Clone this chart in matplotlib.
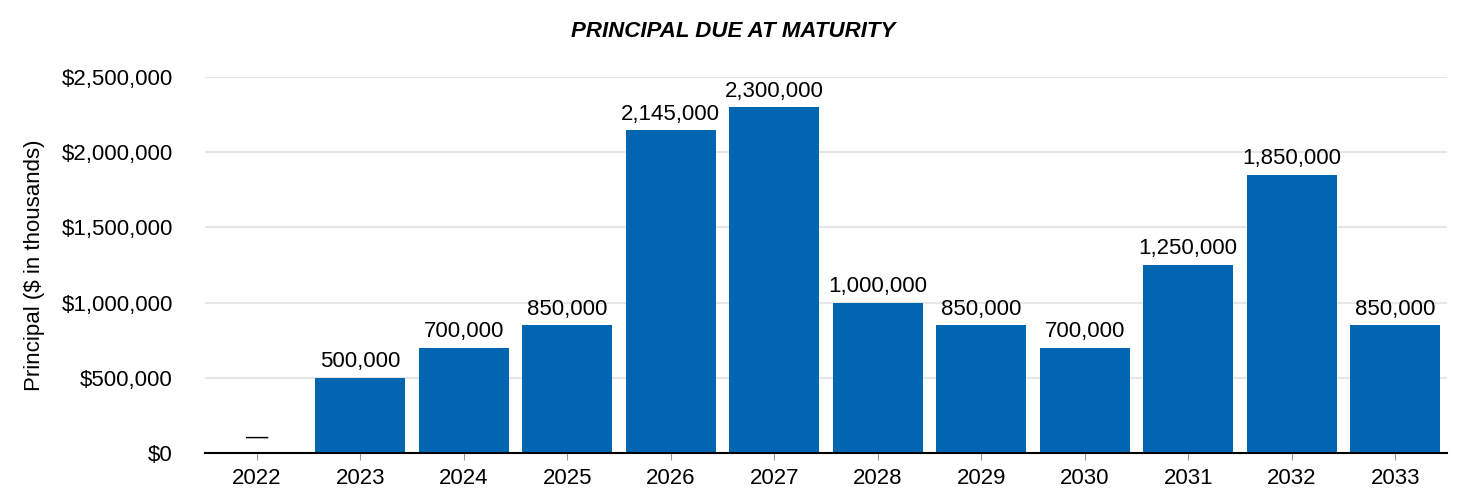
import matplotlib.pyplot as plt
from matplotlib.ticker import FuncFormatter

plt.rcParams['font.family'] = ['Liberation Sans', 'DejaVu Sans']

years = ['2022', '2023', '2024', '2025', '2026', '2027', '2028', '2029', '2030', '2031', '2032', '2033']
principal = [0, 500000, 700000, 850000, 2145000, 2300000, 1000000, 850000, 700000, 1250000, 1850000, 850000]

fig = plt.figure(figsize=(14.66, 4.92), dpi=100)
ax = fig.add_axes([0.1398, 0.0793, 0.8472, 0.7642])

x = range(len(years))
bars = ax.bar(x, principal, width=0.87, color='#0066b2', zorder=2)

for xi, v in zip(x, principal):
    label = f'{v:,}' if v > 0 else '\u2014'
    ax.annotate(label, (xi, v), xytext=(0, 4), textcoords='offset points',
                ha='center', va='bottom', fontsize=16)

ax.set_xlim(-0.5, len(years) - 0.5)
ax.set_ylim(0, 2500000)
ax.set_yticks(range(0, 2500001, 500000))
ax.yaxis.set_major_formatter(FuncFormatter(lambda v, p: f'${int(v):,}'))
ax.set_xticks(list(x))
ax.set_xticklabels(years)
ax.grid(axis='y', color='#e6e6e6', linewidth=1.5, zorder=0)

for s in ['top', 'right', 'left']:
    ax.spines[s].set_visible(False)
ax.spines['bottom'].set_color('black')
ax.spines['bottom'].set_linewidth(1.5)
ax.spines['bottom'].set_zorder(3)

ax.tick_params(axis='y', length=0, labelsize=16, pad=23)
ax.tick_params(axis='x', length=5, color='#999999', labelsize=16, pad=6)

ax.set_ylabel('Principal ($ in thousands)', fontsize=16, labelpad=12)
fig.suptitle('PRINCIPAL DUE AT MATURITY', x=0.5, y=0.957, fontsize=16,
             fontweight='bold', fontstyle='italic', va='top')

fig.savefig('out.png', dpi=100)
